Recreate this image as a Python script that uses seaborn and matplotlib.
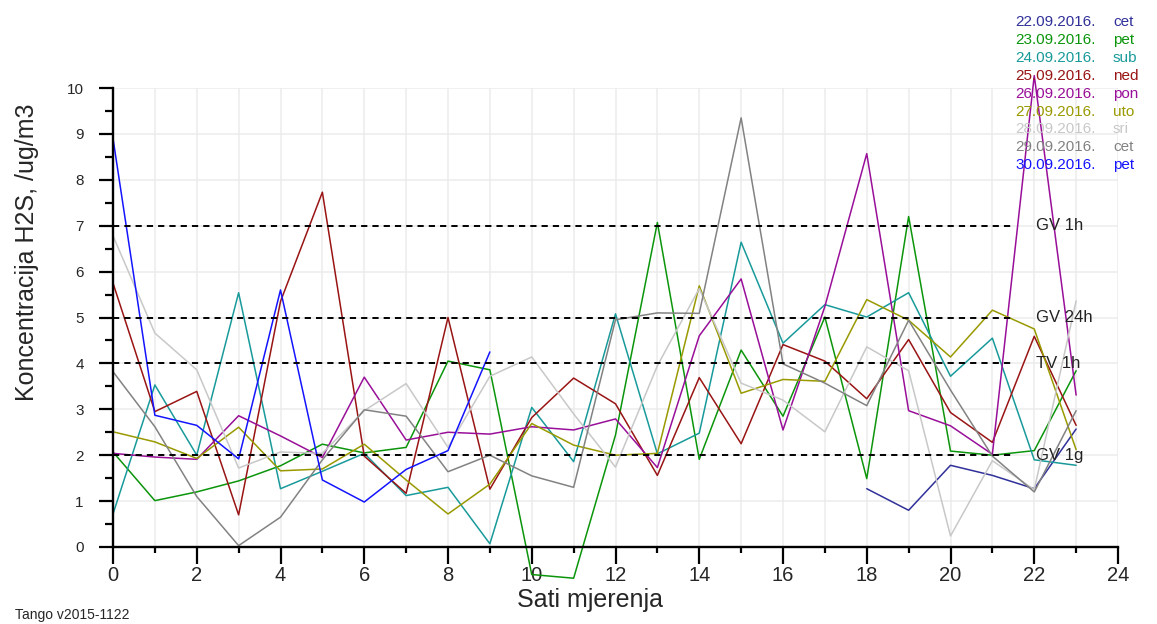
import numpy as np
import pandas as pd
import matplotlib
matplotlib.use("Agg")
import matplotlib.pyplot as plt
import seaborn as sns

# Hourly H2S concentrations (ug/m3), one list per measuring day
hours = list(range(24))
nan = np.nan

dates = ["22.09.2016.", "23.09.2016.", "24.09.2016.", "25.09.2016.", "26.09.2016.",
         "27.09.2016.", "28.09.2016.", "29.09.2016.", "30.09.2016."]
weekdays = ["cet", "pet", "sub", "ned", "pon", "uto", "sri", "cet", "pet"]
colors = ["#30309a", "#0b950b", "#199a9a", "#991414", "#990f99",
          "#999900", "#c8c8c8", "#828282", "#1414ff"]

d22 = [nan] * 18 + [1.27, 0.80, 1.78, 1.56, 1.27, 2.57]
d23 = [2.07, 1.01, 1.20, 1.44, 1.77, 2.24, 2.05, 2.17, 4.05, 3.86, -0.60, -0.68,
       2.44, 7.07, 1.91, 4.29, 2.85, 5.01, 1.49, 7.20, 2.09, 2.00, 2.10, 3.84]
d24 = [0.72, 3.53, 2.00, 5.54, 1.27, 1.65, 2.04, 1.12, 1.30, 0.07, 3.04, 1.86,
       5.08, 2.03, 2.48, 6.64, 4.44, 5.28, 5.01, 5.54, 3.72, 4.55, 1.90, 1.78]
d25 = [5.75, 2.95, 3.39, 0.70, 5.35, 7.73, 1.98, 1.17, 5.00, 1.26, 2.82, 3.68,
       3.12, 1.56, 3.69, 2.25, 4.41, 4.05, 3.23, 4.52, 2.93, 2.28, 4.59, 2.65]
d26 = [2.04, 1.96, 1.91, 2.86, 2.42, 1.95, 3.70, 2.33, 2.50, 2.46, 2.62, 2.55,
       2.79, 1.73, 4.60, 5.84, 2.55, 5.24, 8.57, 2.97, 2.64, 2.02, 10.27, 3.31]
d27 = [2.51, 2.29, 1.93, 2.61, 1.66, 1.70, 2.24, 1.46, 0.72, 1.37, 2.69, 2.22,
       2.00, 2.04, 5.69, 3.35, 3.65, 3.61, 5.39, 4.94, 4.14, 5.16, 4.75, 2.12]
d28 = [6.78, 4.66, 3.86, 1.72, 2.07, 2.04, 2.97, 3.56, 2.17, 3.72, 4.14, 2.90,
       1.74, 3.95, 5.63, 3.57, 3.20, 2.51, 4.36, 3.84, 0.24, 1.88, 1.25, 5.36]
d29 = [3.82, 2.62, 1.10, 0.03, 0.65, 1.90, 2.99, 2.85, 1.64, 2.00, 1.55, 1.30,
       4.95, 5.10, 5.09, 9.35, 3.99, 3.57, 3.08, 4.94, 3.42, 1.98, 1.20, 2.97]
d30 = [8.90, 2.87, 2.65, 1.92, 5.60, 1.46, 0.98, 1.69, 2.10, 4.25] + [nan] * 14

series = [d22, d23, d24, d25, d26, d27, d28, d29, d30]

# Limit values drawn as dashed reference lines
limit_values = [7, 5, 4, 2]
limit_labels = ["GV 1h", "GV 24h", "TV 1h", "GV 1g"]

rows = []
for date, vals in zip(dates, series):
    for h, v in zip(hours, vals):
        if not np.isnan(v):
            rows.append({"sat": h, "konc": v, "datum": date})
df = pd.DataFrame(rows)

sns.set_style("white")
plt.rcParams["font.family"] = ["Liberation Sans", "DejaVu Sans"]

W, H = 1157, 624
fig = plt.figure(figsize=(W / 100, H / 100), dpi=100)
ax = fig.add_axes([113 / W, (H - 547) / H, (1118 - 113) / W, (547 - 88) / H])

sns.lineplot(data=df, x="sat", y="konc", hue="datum", hue_order=dates,
             palette=dict(zip(dates, colors)), estimator=None, linewidth=1.1,
             legend=False, ax=ax, zorder=2)
for ln in ax.get_lines():
    ln.set_clip_on(False)

ax.set_xlim(0, 24)
ax.set_ylim(0, 10)
ax.set_xticks(range(0, 25, 2))
ax.set_xticks(range(0, 25), minor=True)
ax.set_yticks(range(0, 11))
ax.set_yticks(np.arange(0, 10.01, 0.5), minor=True)

# light grid at every hour and every unit
for h in range(1, 25):
    ax.axvline(h, color="#ececec", lw=1.1, zorder=0)
for v in range(1, 11):
    ax.axhline(v, color="#ececec", lw=1.1, zorder=0)

for v, lab in zip(limit_values, limit_labels):
    ax.axhline(v, xmin=0, xmax=21.5 / 24, color="black", lw=1.4,
               ls=(0, (3.2, 2.6)), zorder=3)
    ax.text(22.05, v, lab, ha="left", va="center", fontsize=12, color="#222222",
            zorder=4)

ax.set_xlabel("")
ax.set_ylabel("")
for side in ("top", "right"):
    ax.spines[side].set_visible(False)
for side in ("left", "bottom"):
    ax.spines[side].set_color("black")
    ax.spines[side].set_linewidth(1.7)

ax.tick_params(axis="both", which="both", bottom=True, left=True,
               direction="out", width=1.6, color="black")
ax.tick_params(axis="x", which="major", length=12, labelsize=14.5, pad=1.5)
ax.tick_params(axis="x", which="minor", length=4.3)
ax.tick_params(axis="y", which="major", length=10, labelsize=11, pad=11)
ax.tick_params(axis="y", which="minor", length=5.5)

fig.text(27 / W, 1 - 252 / H, "Koncentracija H2S, /ug/m3", rotation=90,
         ha="center", va="center", fontsize=18)
fig.text(590 / W, 1 - 600 / H, "Sati mjerenja", ha="center", va="center",
         fontsize=18)
fig.text(15 / W, 1 - 615 / H, "Tango v2015-1122", ha="left", va="center",
         fontsize=10, family=["Liberation Sans Narrow", "Liberation Sans"])

# day list in the upper right corner
for i, (date, day, c) in enumerate(zip(dates, weekdays, colors)):
    y = 1 - (22.5 + 17.8 * i) / H
    fig.text(1015 / W, y, date, ha="left", va="center", fontsize=11, color=c)
    fig.text(1113 / W, y, day, ha="left", va="center", fontsize=11, color=c)

fig.savefig("out.png", dpi=100)
